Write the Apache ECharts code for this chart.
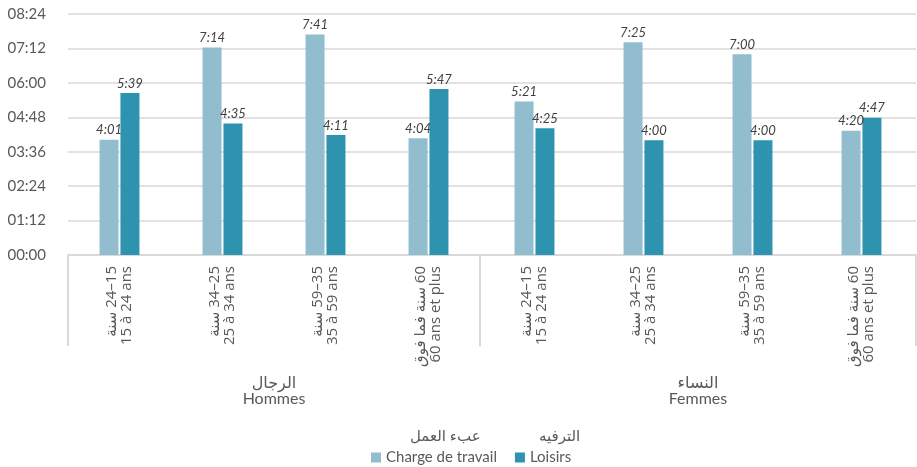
<!DOCTYPE html>
<html>
<head>
<meta charset="utf-8">
<script src="https://cdn.jsdelivr.net/npm/echarts@6/dist/echarts.min.js"></script>
<style>html,body{margin:0;padding:0;background:#fff}#c{width:917px;height:467px}</style>
</head>
<body>
<div id="c"></div>
<script>
const ageAr = ['15–24 سنة', '25–34 سنة', '35–59 سنة', '60 سنة فما فوق'];
const ageFr = ['15 à 24 ans', '25 à 34 ans', '35 à 59 ans', '60 ans et plus'];
const groupNames = ['الرجال\nHommes', 'النساء\nFemmes'];
const seriesNames = ['Charge de travail', 'Loisirs'];
const seriesNamesAr = ['عبء العمل', 'الترفيه'];
// minutes
const hommesCharge = [241, 434, 461, 244];
const hommesLoisirs = [339, 275, 251, 347];
const femmesCharge = [321, 445, 420, 260];
const femmesLoisirs = [265, 240, 240, 287];
const yTicks = ['00:00', '01:12', '02:24', '03:36', '04:48', '06:00', '07:12', '08:24'];

const colors = ['#92bdcf', '#2e93ae'];
const FONT = 'Lato, "DejaVu Sans", sans-serif';
const FONT2 = '"Open Sans", "DejaVu Sans", sans-serif';
const cats = ageAr.map((a, i) => '\u202B' + a + '\u202C\n' + ageFr[i]);

function hhmm(v) { const h = Math.floor(v / 60), m = v % 60; return String(h).padStart(2, '0') + ':' + String(m).padStart(2, '0'); }
function hmm(v) { const h = Math.floor(v / 60), m = v % 60; return h + ':' + String(m).padStart(2, '0'); }

function xAxis(gi) {
  return {
    type: 'category', gridIndex: gi, data: cats,
    name: groupNames[gi], nameLocation: 'middle', nameGap: 116,
    nameTextStyle: { fontFamily: FONT, fontSize: 16, color: '#595959', lineHeight: 16 },
    axisLine: { lineStyle: { color: '#d9d9d9', width: 2 } },
    axisTick: { show: true, length: 91, interval: function (idx) { return idx === 0; }, lineStyle: { color: '#d9d9d9', width: 2 } },
    axisLabel: { interval: 0, rotate: 90, margin: 11, fontFamily: FONT2, fontSize: 15, lineHeight: 15, color: '#595959' }
  };
}
function yAxis(gi) {
  return {
    type: 'value', gridIndex: gi, min: 0, max: 504, interval: 72,
    axisLine: { show: false }, axisTick: { show: false },
    axisLabel: { show: gi === 0, margin: 22, fontFamily: FONT, fontSize: 15, color: '#595959', formatter: v => hhmm(v) },
    splitLine: { lineStyle: { color: '#d9d9d9', width: 1.5 } }
  };
}
function bar(name, data, gi, ci) {
  return {
    type: 'bar', name: name, data: data, xAxisIndex: gi, yAxisIndex: gi,
    barWidth: 19, barGap: '10%',
    itemStyle: { color: colors[ci] },
    label: { show: true, position: 'top', distance: 3, fontFamily: FONT, fontSize: 13, fontStyle: 'italic', color: '#404040', formatter: p => hmm(p.value) }
  };
}

const chart = echarts.init(document.getElementById('c'), null, { renderer: 'canvas' });
chart.setOption({
  animation: false,
  grid: [
    { left: 68, width: 412, top: 14, bottom: 212, containLabel: false },
    { left: 480, right: 1, top: 14, bottom: 212, containLabel: false }
  ],
  xAxis: [xAxis(0), xAxis(1)],
  yAxis: [yAxis(0), yAxis(1)],
  legend: {
    data: seriesNames, left: 366, top: 445, itemWidth: 10, itemHeight: 10, itemGap: 18,
    icon: 'rect', textStyle: { fontFamily: FONT, fontSize: 15, color: '#595959' }
  },
  graphic: [
    { type: 'text', left: 410, top: 429, style: { text: seriesNamesAr[0], font: '15px ' + FONT, fill: '#595959' } },
    { type: 'text', left: 539, top: 429, style: { text: seriesNamesAr[1], font: '15px ' + FONT, fill: '#595959' } }
  ],
  series: [
    bar(seriesNames[0], hommesCharge, 0, 0),
    bar(seriesNames[1], hommesLoisirs, 0, 1),
    bar(seriesNames[0], femmesCharge, 1, 0),
    bar(seriesNames[1], femmesLoisirs, 1, 1)
  ]
});
</script>
</body>
</html>
